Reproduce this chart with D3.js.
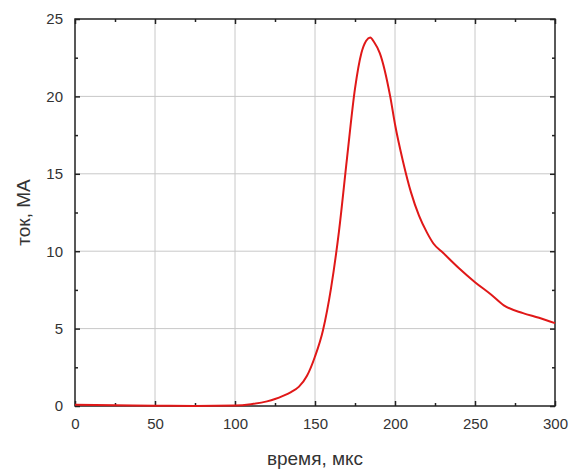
<!DOCTYPE html>
<html>
<head>
<meta charset="utf-8">
<script src="https://cdn.jsdelivr.net/npm/d3@7"></script>
<style>
  body { margin: 0; background: #fff; }
  text { font-family: "Liberation Sans", Arial, sans-serif; fill: #333; }
</style>
</head>
<body>
<div id="vis"></div>
<script>
// time, us
const timeUs = [0, 25, 50, 75, 100, 110, 120, 125, 130, 135, 140, 145, 150, 155, 160, 165, 170, 175, 179, 182, 184.5, 187, 190.5, 197, 200, 205, 210, 215, 220, 224, 230, 240, 250, 260, 268, 280, 290, 300];
// current, MA
const currentMA = [0.08, 0.05, 0.02, 0.0, 0.03, 0.12, 0.3, 0.45, 0.65, 0.9, 1.25, 1.95, 3.2, 4.9, 7.6, 11.3, 16.0, 20.5, 22.8, 23.6, 23.8, 23.5, 22.8, 20.0, 18.2, 15.8, 13.8, 12.3, 11.2, 10.5, 9.9, 8.9, 8.0, 7.2, 6.5, 6.0, 5.7, 5.35];
const xTicks = [0, 50, 100, 150, 200, 250, 300];
const yTicks = [0, 5, 10, 15, 20, 25];
const xMinor = [25, 75, 125, 175, 225, 275];
const yMinor = [2.5, 7.5, 12.5, 17.5, 22.5];

const width = 571, height = 469;
const margin = { top: 19, right: 16, bottom: 63, left: 75 };
const plotW = width - margin.left - margin.right;
const plotH = height - margin.top - margin.bottom;

const data = timeUs.map((t, i) => ({ t: t, v: currentMA[i] }));

const svg = d3.select("#vis").append("svg")
  .attr("width", width)
  .attr("height", height);

const x = d3.scaleLinear().domain([0, 300]).range([0, plotW]);
const y = d3.scaleLinear().domain([0, 25]).range([plotH, 0]);

const g = svg.append("g")
  .attr("transform", "translate(" + margin.left + "," + margin.top + ")");

// grid
g.append("g").selectAll("line")
  .data(xTicks.slice(1, -1))
  .enter().append("line")
  .attr("x1", d => x(d)).attr("x2", d => x(d))
  .attr("y1", 0).attr("y2", plotH)
  .attr("stroke", "#c8c8c8").attr("stroke-width", 1);

g.append("g").selectAll("line")
  .data(yTicks.slice(1, -1))
  .enter().append("line")
  .attr("y1", d => y(d)).attr("y2", d => y(d))
  .attr("x1", 0).attr("x2", plotW)
  .attr("stroke", "#c8c8c8").attr("stroke-width", 1);

// axes with inward ticks
function styleAxis(sel) {
  sel.select(".domain").remove();
  sel.selectAll(".tick line").attr("stroke", "#222").attr("stroke-width", 1.5);
  sel.selectAll("text").style("font-size", "15px").attr("fill", "#333");
}

const xBottom = g.append("g").attr("transform", "translate(0," + plotH + ")")
  .call(d3.axisBottom(x).tickValues(xTicks).tickSizeInner(-5).tickSizeOuter(0).tickPadding(12));
styleAxis(xBottom);
const xBottomMinor = g.append("g").attr("transform", "translate(0," + plotH + ")")
  .call(d3.axisBottom(x).tickValues(xMinor).tickSize(-3).tickFormat(""));
styleAxis(xBottomMinor);

const xTop = g.append("g")
  .call(d3.axisTop(x).tickValues(xTicks).tickSize(-5).tickFormat(""));
styleAxis(xTop);
const xTopMinor = g.append("g")
  .call(d3.axisTop(x).tickValues(xMinor).tickSize(-3).tickFormat(""));
styleAxis(xTopMinor);

const yLeft = g.append("g")
  .call(d3.axisLeft(y).tickValues(yTicks).tickSizeInner(-5).tickSizeOuter(0).tickPadding(12));
styleAxis(yLeft);
const yLeftMinor = g.append("g")
  .call(d3.axisLeft(y).tickValues(yMinor).tickSize(-3).tickFormat(""));
styleAxis(yLeftMinor);

const yRight = g.append("g").attr("transform", "translate(" + plotW + ",0)")
  .call(d3.axisRight(y).tickValues(yTicks).tickSize(-5).tickFormat(""));
styleAxis(yRight);
const yRightMinor = g.append("g").attr("transform", "translate(" + plotW + ",0)")
  .call(d3.axisRight(y).tickValues(yMinor).tickSize(-3).tickFormat(""));
styleAxis(yRightMinor);

// frame
g.append("rect")
  .attr("width", plotW).attr("height", plotH)
  .attr("fill", "none").attr("stroke", "#222").attr("stroke-width", 1.5);

// curve
const line = d3.line()
  .x(d => x(d.t))
  .y(d => y(d.v))
  .curve(d3.curveMonotoneX);

g.append("path")
  .datum(data)
  .attr("fill", "none")
  .attr("stroke", "#e01818")
  .attr("stroke-width", 2)
  .attr("d", line);

// axis titles
svg.append("text")
  .attr("x", margin.left + plotW / 2)
  .attr("y", 465)
  .attr("text-anchor", "middle")
  .style("font-size", "19px")
  .text("время, мкс");

svg.append("text")
  .attr("transform", "translate(30," + (margin.top + plotH / 2) + ") rotate(-90)")
  .attr("text-anchor", "middle")
  .style("font-size", "19px")
  .text("ток, МА");
</script>
</body>
</html>
